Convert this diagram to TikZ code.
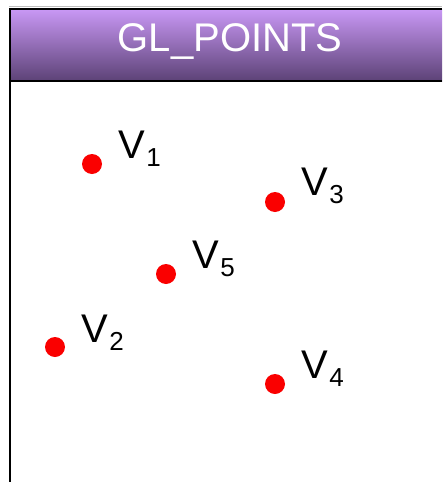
\documentclass[tikz,border=0pt]{standalone}
\usepackage{fontspec}
\setmainfont{Liberation Sans}
\definecolor{hdtop}{RGB}{201,152,245}
\definecolor{hdbot}{RGB}{92,66,118}
\definecolor{dotred}{RGB}{250,0,0}
\begin{document}
\begin{tikzpicture}[x=1pt,y=-1pt,
  vpt/.style={circle,fill=dotred,inner sep=0pt,minimum size=20pt},
  vlab/.style={anchor=base west,inner sep=0pt,font=\fontsize{40}{40}\selectfont},
  frame/.style={line width=2pt,black}]
\useasboundingbox (0,0) rectangle (442,482);
\fill[white] (0,0) rectangle (442,482);
% header
\shade[top color=hdtop,bottom color=hdbot] (9,9) rectangle (442,81);
\draw[gray!50,line width=1pt] (9,6.5) -- (442,6.5);
\draw[frame] (9.5,482) -- (9.5,8.5) -- (442,8.5);
\draw[frame] (9.5,81) -- (442,81);
\node[anchor=base,inner sep=0pt,text=white,font=\fontsize{40}{40}\selectfont] (title) at (230,51) {GL\_POINTS};
% points
\node[vpt] (p1) at (92,164) {};
\node[vpt] (p2) at (55,347) {};
\node[vpt] (p3) at (275,202) {};
\node[vpt] (p4) at (275,384) {};
\node[vpt] (p5) at (166,274) {};
\newcommand{\vsub}[1]{V\hspace{1.5pt}\raisebox{-8pt}{\fontsize{26}{26}\selectfont #1}}
\node[vlab] (l1) at (118,158) {\vsub{1}};
\node[vlab] (l2) at (81,342) {\vsub{2}};
\node[vlab] (l3) at (301,195) {\vsub{3}};
\node[vlab] (l4) at (301,378) {\vsub{4}};
\node[vlab] (l5) at (192,268) {\vsub{5}};
\end{tikzpicture}
\end{document}
